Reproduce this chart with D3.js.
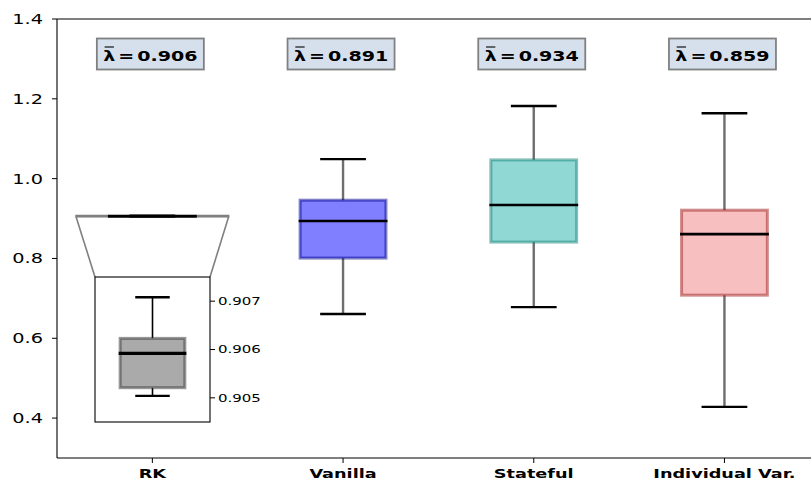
<!DOCTYPE html>
<html>
<head>
<meta charset="utf-8">
<script src="https://cdn.jsdelivr.net/npm/d3@7"></script>
<style>
  html, body { margin: 0; padding: 0; background: #fff; }
  svg { display: block; }
  text { font-family: "DejaVu Sans", sans-serif; fill: #000; }
</style>
</head>
<body>
<svg id="chart" width="811" height="484"></svg>
<script>
// Box statistics per model
const categories  = ["RK", "Vanilla", "Stateful", "Individual Var."];
const whiskerLow  = [0.90504, 0.661, 0.678, 0.428];
const q1          = [0.90521, 0.801, 0.841, 0.708];
const median      = [0.90592, 0.894, 0.934, 0.861];
const q3          = [0.90623, 0.946, 1.047, 0.921];
const whiskerHigh = [0.90708, 1.049, 1.182, 1.164];
// Mean lambda shown above each box
const meanLambda  = [0.906, 0.891, 0.934, 0.859];
// Tick values
const yTicks      = [0.4, 0.6, 0.8, 1.0, 1.2, 1.4];
const insetTicks  = [0.905, 0.906, 0.907];

// Box colours
const boxFill   = ["#aaaaaa", "rgba(0,0,255,0.5)", "rgba(32,178,170,0.5)", "rgba(240,128,128,0.5)"];
const boxStroke = ["rgba(50,50,50,0.5)", "rgba(0,0,140,0.5)", "rgba(20,130,120,0.5)", "rgba(160,30,30,0.5)"];

const SX = 1.36; // horizontal text stretch
const svg = d3.select("#chart");

const x = d3.scaleLinear().domain([0.5, 4.5]).range([57, 819.8]);
const y = d3.scaleLinear().domain([0.3, 1.4]).range([458, 19]);
const BOX_W = 0.45, CAP_W = 0.24;

function label(parent, px, py, str, opts) {
  const g = parent.append("g").attr("transform", `translate(${px},${py}) scale(${SX},1)`);
  const t = g.append("text")
    .attr("text-anchor", opts.anchor || "middle")
    .attr("font-size", opts.size)
    .attr("font-weight", opts.weight || "normal")
    .attr("dominant-baseline", opts.baseline || "auto")
    .text(str);
  return { g, t };
}

// Axes frame
const frame = svg.append("g");
frame.append("line").attr("x1", 57).attr("x2", 830).attr("y1", 19).attr("y2", 19).attr("stroke", "#000").attr("stroke-width", 1.1);
frame.append("line").attr("x1", 57).attr("x2", 830).attr("y1", 458).attr("y2", 458).attr("stroke", "#000").attr("stroke-width", 1.1);
frame.append("line").attr("x1", 57).attr("x2", 57).attr("y1", 19).attr("y2", 458).attr("stroke", "#000").attr("stroke-width", 1.1);
frame.append("line").attr("x1", 819.8).attr("x2", 819.8).attr("y1", 19).attr("y2", 458).attr("stroke", "#000").attr("stroke-width", 1.1);

// Y axis ticks and labels
yTicks.forEach(v => {
  frame.append("line").attr("x1", 52).attr("x2", 57).attr("y1", y(v)).attr("y2", y(v)).attr("stroke", "#000").attr("stroke-width", 1);
  label(frame, 43, y(v), d3.format(".1f")(v), { anchor: "end", size: 14.2, baseline: "central" });
});

// X axis ticks and labels
categories.forEach((c, i) => {
  const cx = x(i + 1);
  frame.append("line").attr("x1", cx).attr("x2", cx).attr("y1", 458).attr("y2", 463).attr("stroke", "#000").attr("stroke-width", 1);
  label(frame, cx, 478, c, { size: 13, weight: "bold" });
});

// Draws one box with whiskers into a group using given scales
function drawBox(g, xs, ys, i, cx, whiskerColor, whiskerW, medW) {
  const half = (xs(cx + BOX_W / 2) - xs(cx - BOX_W / 2)) / 2;
  const capHalf = (xs(cx + CAP_W / 2) - xs(cx - CAP_W / 2)) / 2;
  const px = xs(cx);
  // whiskers
  g.append("line").attr("x1", px).attr("x2", px).attr("y1", ys(q3[i])).attr("y2", ys(whiskerHigh[i]))
    .attr("stroke", whiskerColor).attr("stroke-width", whiskerW);
  g.append("line").attr("x1", px).attr("x2", px).attr("y1", ys(q1[i])).attr("y2", ys(whiskerLow[i]))
    .attr("stroke", whiskerColor).attr("stroke-width", whiskerW);
  // caps
  [whiskerHigh[i], whiskerLow[i]].forEach(v => {
    g.append("line").attr("x1", px - capHalf).attr("x2", px + capHalf).attr("y1", ys(v)).attr("y2", ys(v))
      .attr("stroke", "#000").attr("stroke-width", 2.4);
  });
  // box
  g.append("rect")
    .attr("x", px - half).attr("width", 2 * half)
    .attr("y", ys(q3[i])).attr("height", Math.max(0, ys(q1[i]) - ys(q3[i])))
    .attr("fill", boxFill[i]).attr("stroke", boxStroke[i]).attr("stroke-width", 3);
  // median
  g.append("line").attr("x1", px - half - 1.5).attr("x2", px + half + 1.5)
    .attr("y1", ys(median[i])).attr("y2", ys(median[i]))
    .attr("stroke", "#000").attr("stroke-width", medW);
}

// Zoom indicator for the RK box
const ix = d3.scaleLinear().domain([0.6, 1.4]).range([95, 210]);
const iy = d3.scaleLinear().domain([0.9045, 0.9075]).range([422, 277]);
const ind = svg.append("g");
ind.append("rect")
  .attr("x", x(0.6)).attr("width", x(1.4) - x(0.6))
  .attr("y", y(0.9075)).attr("height", y(0.9045) - y(0.9075))
  .attr("fill", "none").attr("stroke", "#808080").attr("stroke-width", 1.6);
ind.append("line").attr("x1", x(0.6)).attr("y1", y(0.9045)).attr("x2", 95).attr("y2", 277)
  .attr("stroke", "#808080").attr("stroke-width", 1.6);
ind.append("line").attr("x1", x(1.4)).attr("y1", y(0.9045)).attr("x2", 210).attr("y2", 277)
  .attr("stroke", "#808080").attr("stroke-width", 1.6);

// Main boxes
const boxes = svg.append("g");
categories.forEach((c, i) => drawBox(boxes, x, y, i, i + 1, "#6e6e6e", 2.4, 2.6));

// Inset axes with the RK distribution
const inset = svg.append("g");
inset.append("rect").attr("x", 95).attr("y", 277).attr("width", 115).attr("height", 145)
  .attr("fill", "#fff").attr("stroke", "none");
drawBox(inset, ix, iy, 0, 1, "#000", 1.6, 3.4);
inset.append("rect").attr("x", 95).attr("y", 277).attr("width", 115).attr("height", 145)
  .attr("fill", "none").attr("stroke", "#000").attr("stroke-width", 1.1);
insetTicks.forEach(v => {
  inset.append("line").attr("x1", 210).attr("x2", 215).attr("y1", iy(v)).attr("y2", iy(v))
    .attr("stroke", "#000").attr("stroke-width", 1);
  label(inset, 218, iy(v), d3.format(".3f")(v), { anchor: "start", size: 11, baseline: "central" });
});

// Mean lambda annotations
const ann = svg.append("g");
meanLambda.forEach((m, i) => {
  const cx = x(i + 1) - 2;
  ann.append("rect").attr("x", cx - 53.5).attr("y", 38.5).attr("width", 107).attr("height", 31)
    .attr("fill", "#d6e0ed").attr("stroke", "#808080").attr("stroke-width", 1.8);
  const { g, t } = label(ann, cx, 61, "", { size: 14, weight: "bold" });
  t.append("tspan").text("λ");
  t.append("tspan").attr("dx", 2.2).text("=");
  t.append("tspan").attr("dx", 2.2).text(d3.format(".3f")(m));
  const ext = t.node().getExtentOfChar(0);
  g.append("line")
    .attr("x1", ext.x + 1).attr("x2", ext.x + ext.width - 1)
    .attr("y1", -14).attr("y2", -14)
    .attr("stroke", "#000").attr("stroke-width", 1.1);
});
</script>
</body>
</html>
